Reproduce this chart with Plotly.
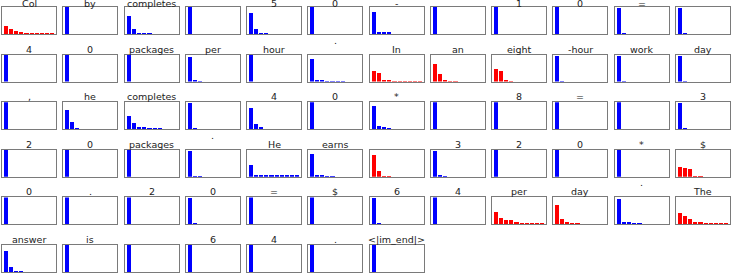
import plotly.graph_objects as go

# ---------------- data ----------------
tokens = [
    "Col", "by", "completes", " ", "5", "0", "-", " ", "1", "0", "=", " ",
    "4", "0", "packages", "per", "hour", ".\n", "In", "an", "eight", "-hour", "work", "day",
    ",", "he", "completes", " ", "4", "0", "*", " ", "8", "=", " ", "3",
    "2", "0", "packages", ".\n", "He", "earns", " ", "3", "2", "0", "*", "$",
    "0", ".", "2", "0", "=", "$", "6", "4", "per", "day", ".\n", "The",
    "answer", "is", " ", "6", "4", ".", "<|im_end|>",
]

FULL = [0.99, 0, 0, 0, 0, 0, 0, 0, 0, 0]

top_probs = [
    # row 1
    [0.30, 0.18, 0.12, 0.09, 0.02, 0.015, 0.012, 0.01, 0.01, 0.01],
    FULL,
    [0.68, 0.19, 0.012, 0.01, 0.01, 0, 0, 0, 0, 0],
    FULL,
    [0.77, 0.19, 0.01, 0.01, 0, 0, 0, 0, 0, 0],
    FULL,
    [0.82, 0.09, 0.05, 0.04, 0, 0, 0, 0, 0, 0],
    FULL,
    FULL,
    FULL,
    [0.98, 0.01, 0, 0, 0, 0, 0, 0, 0, 0],
    [0.97, 0.02, 0, 0, 0, 0, 0, 0, 0, 0],
    # row 2
    FULL,
    FULL,
    [0.99, 0, 0, 0, 0, 0, 0, 0, 0, 0],
    [0.92, 0.06, 0.01, 0, 0, 0, 0, 0, 0, 0],
    FULL,
    [0.84, 0.05, 0.04, 0.03, 0.012, 0.01, 0.01, 0, 0, 0],
    [0.40, 0.35, 0.09, 0.05, 0.02, 0.015, 0.012, 0.01, 0.01, 0.01],
    [0.66, 0.28, 0.04, 0.03, 0.01, 0, 0, 0, 0, 0],
    [0.47, 0.42, 0.09, 0.01, 0, 0, 0, 0, 0, 0],
    [0.96, 0.03, 0, 0, 0, 0, 0, 0, 0, 0],
    [0.96, 0.03, 0, 0, 0, 0, 0, 0, 0, 0],
    [0.96, 0.03, 0, 0, 0, 0, 0, 0, 0, 0],
    # row 3
    FULL,
    [0.71, 0.26, 0.01, 0, 0, 0, 0, 0, 0, 0],
    [0.49, 0.21, 0.09, 0.09, 0.012, 0.01, 0.01, 0, 0, 0],
    [0.98, 0.01, 0, 0, 0, 0, 0, 0, 0, 0],
    [0.78, 0.19, 0.04, 0, 0, 0, 0, 0, 0, 0],
    FULL,
    [0.84, 0.11, 0.05, 0.01, 0, 0, 0, 0, 0, 0],
    FULL,
    FULL,
    FULL,
    FULL,
    [0.98, 0.01, 0, 0, 0, 0, 0, 0, 0, 0],
    # row 4
    FULL,
    FULL,
    FULL,
    [0.97, 0.012, 0.01, 0, 0, 0, 0, 0, 0, 0],
    [0.44, 0.09, 0.09, 0.09, 0.06, 0.05, 0.05, 0.04, 0.04, 0.04],
    [0.86, 0.08, 0.05, 0.03, 0.01, 0, 0, 0, 0, 0],
    [0.81, 0.22, 0.01, 0.01, 0, 0, 0, 0, 0, 0],
    [0.96, 0.04, 0.01, 0, 0, 0, 0, 0, 0, 0],
    FULL,
    FULL,
    [0.99, 0, 0, 0, 0, 0, 0, 0, 0, 0],
    [0.38, 0.33, 0.29, 0.02, 0.01, 0, 0, 0, 0, 0],
    # row 5
    FULL,
    FULL,
    FULL,
    [0.98, 0.015, 0, 0, 0, 0, 0, 0, 0, 0],
    FULL,
    FULL,
    [0.97, 0.02, 0, 0, 0, 0, 0, 0, 0, 0],
    FULL,
    [0.43, 0.23, 0.15, 0.15, 0.05, 0.012, 0.01, 0.01, 0.01, 0.01],
    [0.70, 0.20, 0.05, 0.01, 0.01, 0, 0, 0, 0, 0],
    [0.91, 0.05, 0.04, 0.01, 0.01, 0, 0, 0, 0, 0],
    [0.39, 0.30, 0.19, 0.05, 0.05, 0.012, 0.01, 0.01, 0.01, 0.01],
    # row 6
    [0.78, 0.18, 0.01, 0.01, 0, 0, 0, 0, 0, 0],
    FULL,
    FULL,
    FULL,
    FULL,
    FULL,
    FULL,
]

is_red = [
    1, 0, 0, 0, 0, 0, 0, 0, 0, 0, 0, 0,
    0, 0, 0, 0, 0, 0, 1, 1, 1, 0, 0, 0,
    0, 0, 0, 0, 0, 0, 0, 0, 0, 0, 0, 0,
    0, 0, 0, 0, 0, 0, 1, 0, 0, 0, 0, 1,
    0, 0, 0, 0, 0, 0, 0, 0, 1, 1, 0, 1,
    0, 0, 0, 0, 0, 0, 0,
]

ranks = list(range(10))

# ---------------- layout ----------------
W, H = 731, 273
NCOLS = 12
COL_LEFT, COL_PITCH, COL_W = 2.0, 61.27, 54.0
ROW_TOP, ROW_PITCH, ROW_H = 7.0, 47.6, 27.0

fig = go.Figure()
layout = {}
annotations = []

for i, (tok, vals, red) in enumerate(zip(tokens, top_probs, is_red)):
    r, c = divmod(i, NCOLS)
    n = i + 1
    xa = "x" if n == 1 else f"x{n}"
    ya = "y" if n == 1 else f"y{n}"
    x0 = (COL_LEFT + COL_PITCH * c) / W
    x1 = (COL_LEFT + COL_PITCH * c + COL_W) / W
    top = ROW_TOP + ROW_PITCH * r
    y1 = 1 - top / H
    y0 = max(0.0, 1 - (top + ROW_H) / H)
    color = "#ff0000" if red else "#0000ff"
    fig.add_trace(go.Bar(
        x=ranks, y=vals, width=0.8, marker=dict(color=color, line=dict(width=0)),
        xaxis=xa, yaxis=ya, showlegend=False, hoverinfo="skip",
    ))
    axstyle = dict(showline=True, mirror=True, linecolor="#7a7a7a", linewidth=1,
                   showgrid=False, zeroline=False, showticklabels=False, ticks="")
    layout["xaxis" if n == 1 else f"xaxis{n}"] = dict(
        domain=[x0, x1], anchor=ya, range=[-0.89, 9.89], fixedrange=True, **axstyle)
    layout["yaxis" if n == 1 else f"yaxis{n}"] = dict(
        domain=[y0, y1], anchor=xa, range=[0, 1], fixedrange=True, **axstyle)
    raised = tok.endswith("\n")
    text = tok.strip("\n").replace("<", "&lt;").replace(">", "&gt;")
    shift = -1 if r > 0 else -3
    if raised:
        shift += 9
    annotations.append(dict(
        text=text, x=(x0 + x1) / 2, y=y1, xref="paper", yref="paper",
        xanchor="center", yanchor="bottom", showarrow=False,
        yshift=shift, borderpad=0,
        font=dict(family="DejaVu Sans", size=9.5, color="#222222"),
    ))

fig.update_layout(
    width=W, height=H, margin=dict(l=0, r=0, t=0, b=0),
    paper_bgcolor="white", plot_bgcolor="white",
    annotations=annotations, bargap=0,
    **layout,
)

fig.write_html(
    "out.html",
    config={"displayModeBar": False},
    post_script="document.body.style.margin='0';document.body.style.overflow='hidden';",
)
